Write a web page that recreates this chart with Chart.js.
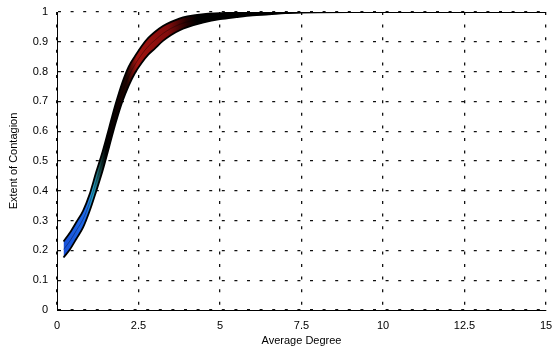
<!DOCTYPE html>
<html><head><meta charset="utf-8">
<script src="https://cdn.jsdelivr.net/npm/chart.js@4/dist/chart.umd.min.js"></script>
<style>html,body{margin:0;padding:0;background:#fff}#wrap{width:559px;height:349px}</style>
</head><body><div id="wrap"><canvas id="c" width="559" height="349"></canvas></div>
<script>
const degree = [0.2,0.4,0.6,0.8,1.0,1.2,1.4,1.6,1.8,2.0,2.2,2.4,2.6,2.8,3.0,3.25,3.5,3.75,4.0,4.5,5.0,5.5,6.0,6.5,7.0,7.5,8,9,10,11,12,13,14,15];
const upperBand = [0.230,0.260,0.296,0.333,0.388,0.462,0.532,0.612,0.692,0.762,0.817,0.853,0.886,0.913,0.933,0.953,0.967,0.978,0.985,0.993,0.996,0.999,0.999,1,1,1,1,1,1,1,1,1,1,1];
const middleBand = [0.203,0.232,0.268,0.305,0.36,0.43,0.50,0.58,0.66,0.73,0.785,0.825,0.858,0.885,0.905,0.928,0.945,0.958,0.967,0.979,0.986,0.991,0.994,0.996,0.998,0.999,1,1,1,1,1,1,1,1];
const lowerBand = [0.176,0.204,0.240,0.277,0.332,0.398,0.468,0.548,0.628,0.698,0.753,0.797,0.830,0.857,0.877,0.903,0.923,0.938,0.949,0.965,0.976,0.983,0.989,0.992,0.996,0.998,0.999,1,1,1,1,1,1,1];
const xTicks = [0,2.5,5,7.5,10,12.5,15];
const yTicks = [0,0.1,0.2,0.3,0.4,0.5,0.6,0.7,0.8,0.9,1];

const pts = arr => degree.map((x,i)=>({x:x,y:arr[i]}));
const colorStops = [[0.2,'#1850d8'],[0.9,'#1f6ae8'],[1.1,'#22a0c8'],[1.3,'#1a5050'],[1.5,'#000000'],[2.15,'#200400'],[2.45,'#a01410'],[3.4,'#820c0c'],[4.0,'#200000'],[4.3,'#000000'],[15,'#000000']];
function bandFill(ctx){
  const chart = ctx.chart; const area = chart.chartArea;
  if(!area) return 'rgba(0,0,0,0)';
  const xs = chart.scales.x;
  const x0 = xs.getPixelForValue(0), x1 = xs.getPixelForValue(15);
  const g = chart.ctx.createLinearGradient(x0,0,x1,0);
  colorStops.forEach(s=>g.addColorStop(s[0]/15, s[1]));
  return g;
}
const font = {family:'"Liberation Sans", Arial, sans-serif', size:11};
new Chart(document.getElementById('c'), {
  type:'line',
  data:{datasets:[
    {data:pts(lowerBand), borderColor:'#000', borderWidth:1.8, pointRadius:0, fill:false, cubicInterpolationMode:'monotone'},
    {data:pts(middleBand), borderColor:'rgba(0,0,0,0.45)', borderWidth:0.8, pointRadius:0, fill:false, cubicInterpolationMode:'monotone'},
    {data:pts(upperBand), borderColor:'#000', borderWidth:1.8, pointRadius:0, fill:{target:0}, backgroundColor:bandFill, cubicInterpolationMode:'monotone'}
  ]},
  options:{
    responsive:false, animation:false, devicePixelRatio:1,
    layout:{padding:{top:12,right:13,left:0,bottom:0}},
    plugins:{legend:{display:false}, tooltip:{enabled:false}},
    scales:{
      x:{type:'linear', min:0, max:15,
        afterBuildTicks:s=>{s.ticks=xTicks.map(v=>({value:v}));},
        afterFit:s=>{s.height=39; s.paddingLeft=0; s.paddingRight=0;},
        ticks:{font:font, color:'#000', padding:9, maxRotation:0, callback:v=>String(v)},
        grid:{color:'#111', lineWidth:1.3, drawTicks:false},
        border:{display:true, color:'#000', width:1, dash:[3,9.6]},
        title:{display:true, text:'Average Degree', font:font, color:'#000', padding:{top:0,bottom:1}}
      },
      y:{type:'linear', min:0, max:1,
        afterBuildTicks:s=>{s.ticks=yTicks.map(v=>({value:v}));},
        afterFit:s=>{s.width=57; s.paddingTop=0; s.paddingBottom=0;},
        ticks:{font:font, color:'#000', padding:9, callback:v=>String(v)},
        grid:{color:'#111', lineWidth:1.3, drawTicks:false},
        border:{display:true, color:'#000', width:1, dash:[3,9.6]},
        title:{display:true, text:'Extent of Contagion', font:font, color:'#000', padding:{top:7,bottom:0}}
      }
    }
  }
});
</script></body></html>
